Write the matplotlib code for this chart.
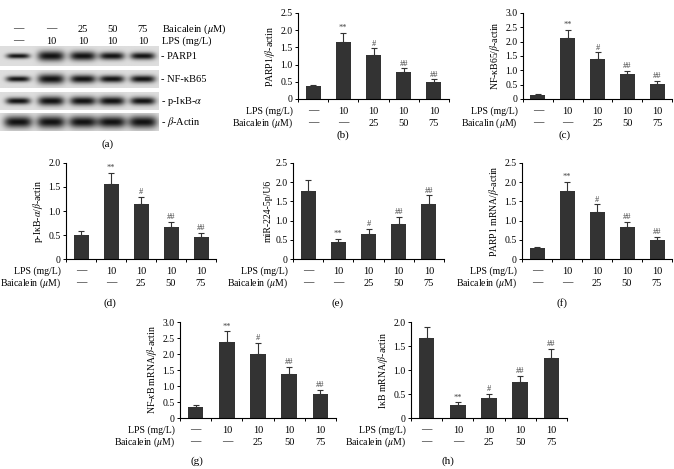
import numpy as np
import matplotlib as mpl
mpl.use("Agg")
import matplotlib.pyplot as plt
import matplotlib.transforms as mtrans
from matplotlib.ticker import FuncFormatter

plt.rcParams["font.family"] = ["Liberation Serif", "DejaVu Serif"]
plt.rcParams["mathtext.fontset"] = "stix"
plt.rcParams["font.size"] = 7

W, H = 674, 469

# treatment rows under each bar chart
lps_row = ["\u2014", "10", "10", "10", "10"]
dose_row = ["\u2014", "\u2014", "25", "50", "75"]
marks = ["", "**", "#", "##", "##"]

# (b) .. (h) values (mean, upper error)
parp1_mean = [0.37, 1.66, 1.27, 0.78, 0.48]
parp1_err = [0.05, 0.26, 0.20, 0.11, 0.09]
nfkb65_mean = [0.14, 2.12, 1.41, 0.86, 0.54]
nfkb65_err = [0.02, 0.30, 0.22, 0.13, 0.10]
pikba_mean = [0.49, 1.56, 1.14, 0.67, 0.46]
pikba_err = [0.09, 0.23, 0.16, 0.11, 0.09]
mir224_mean = [1.77, 0.44, 0.66, 0.91, 1.42]
mir224_err = [0.29, 0.08, 0.13, 0.19, 0.24]
parp1_mrna_mean = [0.28, 1.78, 1.23, 0.83, 0.49]
parp1_mrna_err = [0.03, 0.23, 0.19, 0.14, 0.08]
nfkb_mrna_mean = [0.33, 2.38, 2.01, 1.38, 0.74]
nfkb_mrna_err = [0.08, 0.33, 0.34, 0.21, 0.14]
ikb_mrna_mean = [1.66, 0.28, 0.41, 0.75, 1.25]
ikb_mrna_err = [0.24, 0.05, 0.09, 0.13, 0.19]

# (a) western blot: header rows and band thickness (px) per lane
blot_baicalein = ["\u2014", "\u2014", "25", "50", "75"]
blot_lps = ["\u2014", "10", "10", "10", "10"]
blot_names = ["PARP1", "NF-\u03baB65", "p-I\u03baB-$\\alpha$", "$\\beta$-Actin"]
band_parp1 = [5, 10, 9, 7.5, 7]
band_nfkb65 = [6, 10, 8.5, 7.5, 7.5]
band_pikba = [7, 9.5, 9, 9, 8]
band_actin = [12, 12.5, 12, 12, 12.5]

bar_color = "#333333"


def px_box(x0, y0, x1, y1):
	return [x0 / W, 1 - y1 / H, (x1 - x0) / W, (y1 - y0) / H]


fig = plt.figure(figsize=(W / 100, H / 100), dpi=100)

# ---------------- (a) blot ----------------
ax_a = fig.add_axes(px_box(0, 0, 160, 150))
ax_a.set_xlim(0, 160)
ax_a.set_ylim(150, 0)
ax_a.axis("off")

lane_x = [18, 51, 83, 112, 143]
strips = [(47, 66), (70, 88), (92, 110), (113, 131)]
bands = [band_parp1, band_nfkb65, band_pikba, band_actin]

xs = np.linspace(0, 159, 320)
for (top, bot), thick, name in zip(strips, bands, blot_names):
	ys = np.linspace(top, bot, 40)
	X, Y = np.meshgrid(xs, ys)
	cy = (top + bot) / 2
	dark = np.zeros_like(X)
	for cx, t in zip(lane_x, thick):
		hw = 10 + 0.35 * t
		dark += np.exp(-np.abs((X - cx) / hw) ** 4) * np.exp(-((Y - cy) / (t / 2)) ** 2)
	img = 0.87 - 0.8 * np.clip(dark, 0, 1)
	ax_a.imshow(img, extent=(0, 159, bot, top), cmap="gray", vmin=0, vmax=1,
				aspect="auto", interpolation="bilinear")
	ax_a.text(161, cy, "- " + name, ha="left", va="center", fontsize=7.5, clip_on=False)

for cx, b, l in zip(lane_x, blot_baicalein, blot_lps):
	ax_a.text(cx, 29, b, ha="center", va="center", fontsize=7.5)
	ax_a.text(cx, 41, l, ha="center", va="center", fontsize=7.5)
ax_a.text(162, 29, "Baicalein ($\\mu$M)", ha="left", va="center", fontsize=7.5, clip_on=False)
ax_a.text(162, 41, "LPS (mg/L)", ha="left", va="center", fontsize=7.5, clip_on=False)
ax_a.text(108, 144, "(a)", ha="center", va="center", fontsize=8)

# ---------------- bar panels ----------------
panels = [
	(parp1_mean, parp1_err, "PARP1/$\\beta$-actin", 2.5, (298, 13, 449, 99), "(b)", (343, 135), "Baicalein ($\\mu$M)"),
	(nfkb65_mean, nfkb65_err, "NF-\u03baB65/$\\beta$-actin", 3.0, (523, 13, 672, 99), "(c)", (565, 135), "Baicalin ($\\mu$M)"),
	(pikba_mean, pikba_err, "p-I\u03baB-$\\alpha$/$\\beta$-actin", 2.0, (66, 163, 216, 259), "(d)", (110, 303), "Baicalein ($\\mu$M)"),
	(mir224_mean, mir224_err, "miR-224-5p/U6", 2.5, (293, 163, 444, 259), "(e)", (338, 303), "Baicalein ($\\mu$M)"),
	(parp1_mrna_mean, parp1_mrna_err, "PARP1 mRNA/$\\beta$-actin", 2.5, (522, 163, 672, 259), "(f)", (562, 303), "Baicalein ($\\mu$M)"),
	(nfkb_mrna_mean, nfkb_mrna_err, "NF-$\\kappa$B mRNA/$\\beta$-actin", 3.0, (180, 322, 336, 418), "(g)", (197, 461), "Baicalein ($\\mu$M)"),
	(ikb_mrna_mean, ikb_mrna_err, "I\u03baB mRNA/$\\beta$-actin", 2.0, (411, 322, 567, 418), "(h)", (448, 461), "Baicalein ($\\mu$M)"),
]

fmt = FuncFormatter(lambda v, p: "0" if abs(v) < 1e-9 else "%.1f" % v)

for mean, err, ylab, ymax, box, tag, tagpos, dose_name in panels:
	ax = fig.add_axes(px_box(*box))
	x = np.arange(len(mean))
	ax.bar(x, mean, width=0.5, color=bar_color,
		   yerr=[np.zeros(len(err)), err], capsize=2.5,
		   error_kw=dict(elinewidth=0.8, capthick=0.8, ecolor=bar_color))
	for i in range(len(mean)):
		if marks[i]:
			ax.annotate(marks[i], (x[i], mean[i] + err[i]), xytext=(0, 0.5),
						textcoords="offset points", ha="center", va="bottom",
						fontsize=6, color="#444444")
	ax.set_xlim(-0.5, len(mean) - 0.5)
	ax.set_ylim(0, ymax)
	ax.set_yticks(np.arange(0, ymax + 0.01, 0.5))
	ax.yaxis.set_major_formatter(fmt)
	ax.set_xticks(np.arange(-0.5, len(mean), 1.0))
	ax.set_xticklabels([])
	ax.tick_params(direction="out", length=2.5, width=0.7, labelsize=7, pad=1.5)
	for s in ["top", "right"]:
		ax.spines[s].set_visible(False)
	for s in ["left", "bottom"]:
		ax.spines[s].set_linewidth(0.8)
	ax.set_ylabel(ylab, fontsize=7, labelpad=2)

	row1 = mtrans.offset_copy(ax.get_xaxis_transform(), fig=fig, y=-12, units="dots")
	row2 = mtrans.offset_copy(ax.get_xaxis_transform(), fig=fig, y=-24, units="dots")
	for i in range(len(mean)):
		ax.text(x[i], 0, lps_row[i], transform=row1, ha="center", va="center", fontsize=7.5)
		ax.text(x[i], 0, dose_row[i], transform=row2, ha="center", va="center", fontsize=7.5)
	lab1 = mtrans.offset_copy(ax.transAxes, fig=fig, x=-5, y=-12, units="dots")
	lab2 = mtrans.offset_copy(ax.transAxes, fig=fig, x=-5, y=-24, units="dots")
	ax.text(0, 0, "LPS (mg/L)", transform=lab1, ha="right", va="center", fontsize=7)
	ax.text(0, 0, dose_name, transform=lab2, ha="right", va="center", fontsize=7)

	fig.text(tagpos[0] / W, 1 - tagpos[1] / H, tag, ha="center", va="center", fontsize=8)

fig.savefig("out.png", dpi=100)
